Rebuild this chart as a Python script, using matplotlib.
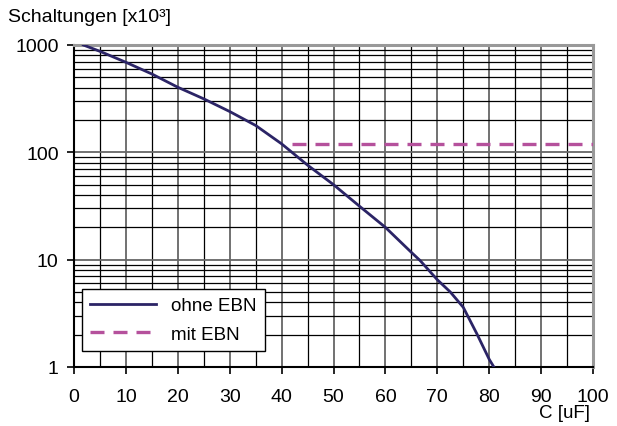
import matplotlib
matplotlib.use("Agg")
import matplotlib.pyplot as plt
from matplotlib.ticker import FixedLocator, LogLocator, NullFormatter

# ohne EBN curve
c_ohne = [1.8, 5, 10, 15, 20, 25, 30, 35, 40, 45, 50, 55, 60, 65, 66.7, 70, 72.5, 75, 77.6, 80, 80.9]
n_ohne = [1000, 873, 690, 537, 404, 315, 240, 178, 120, 76, 50, 31.5, 20, 11.7, 9.8, 6.5, 5.0, 3.6, 2.05, 1.18, 1.0]

# mit EBN line
c_mit = [42, 100]
n_mit = [120, 120]

plt.rcParams['font.family'] = ['Liberation Sans', 'DejaVu Sans']

fig = plt.figure(figsize=(6.17, 4.27), dpi=100)
ax = fig.add_axes([74 / 617, 1 - 368 / 427, 519 / 617, 322 / 427])

ax.plot(c_ohne, n_ohne, color='#2b2466', lw=2, label='ohne EBN', zorder=3)
ax.plot(c_mit, n_mit, color='#b5519c', lw=2.4, dashes=(4.2, 2.7), label='mit EBN', zorder=3)

ax.set_yscale('log')
ax.set_xlim(0, 100)
ax.set_ylim(1, 1000)

ax.xaxis.set_major_locator(FixedLocator(range(0, 101, 10)))
ax.xaxis.set_minor_locator(FixedLocator(range(5, 100, 10)))
ax.yaxis.set_major_locator(FixedLocator([1, 10, 100, 1000]))
ax.yaxis.set_minor_locator(LogLocator(base=10, subs=range(2, 10)))
ax.yaxis.set_minor_formatter(NullFormatter())
ax.set_yticklabels(['1', '10', '100', '1000'])

ax.grid(which='major', color='#666666', lw=1.3)
ax.grid(which='minor', color='black', lw=0.9)
ax.set_axisbelow(True)

ax.tick_params(axis='both', which='major', labelsize=14, length=5, width=1.2, color='black')
ax.tick_params(axis='x', which='major', pad=10)
ax.tick_params(axis='y', which='major', pad=6)
ax.tick_params(axis='both', which='minor', length=0)

for s in ['top', 'right']:
    ax.spines[s].set_color('#999999')
    ax.spines[s].set_linewidth(2.2)
for s in ['left', 'bottom']:
    ax.spines[s].set_color('black')
    ax.spines[s].set_linewidth(1.5)

fig.text(8 / 617, 1 - 18 / 427, 'Schaltungen [x10³]', fontsize=14, va='center', ha='left')
fig.text(590 / 617, 1 - 414 / 427, 'C [uF]', fontsize=13.5, va='center', ha='right')

leg = ax.legend(loc='lower left', bbox_to_anchor=(8 / 519, 16 / 322), fontsize=13.5,
                frameon=True, fancybox=False, edgecolor='black', framealpha=1,
                handlelength=3.5, borderpad=0.45, labelspacing=0.6, borderaxespad=0)
leg.get_frame().set_linewidth(1.0)

fig.savefig('out.png', dpi=100)
